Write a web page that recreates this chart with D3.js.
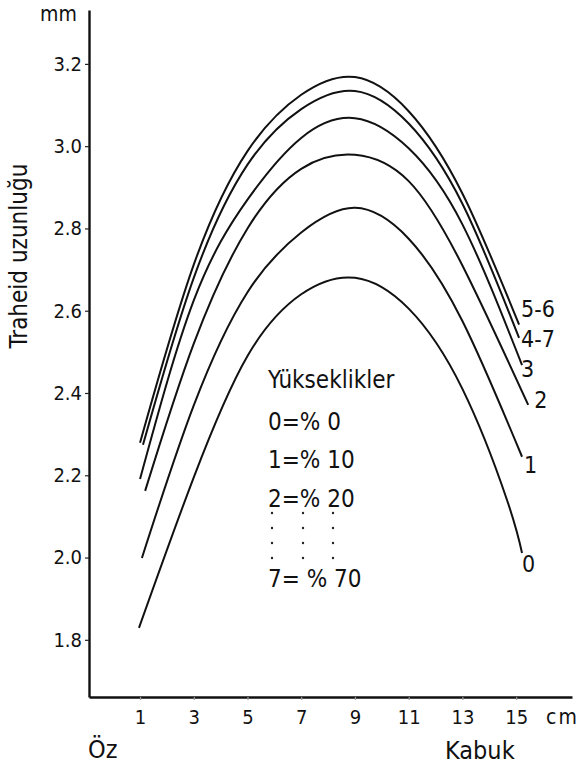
<!DOCTYPE html>
<html>
<head>
<meta charset="utf-8">
<script src="https://cdn.jsdelivr.net/npm/d3@7"></script>
<style>
  body { margin: 0; background: #fff; }
  svg text { font-family: "DejaVu Sans Condensed", "DejaVu Sans", sans-serif; font-stretch: condensed; fill: #111; }
</style>
</head>
<body>
<div id="chart"></div>
<script>
// tracheid length (mm) against distance from pith (cm), one curve per height group
const xTicks = [1, 3, 5, 7, 9, 11, 13, 15];
const yTicks = [1.8, 2.0, 2.2, 2.4, 2.6, 2.8, 3.0, 3.2];

const h0 = [[0.96, 1.829], [3, 2.195], [5, 2.49], [7, 2.64], [9, 2.68], [11, 2.605], [13, 2.41], [14.66, 2.14], [15.22, 2.011]];
const h1 = [[1.07, 1.999], [3, 2.37], [5, 2.645], [7, 2.79], [9, 2.85], [11, 2.775], [13, 2.575], [15.22, 2.245]];
const h2 = [[1.19, 2.162], [3, 2.52], [5, 2.80], [7, 2.945], [9, 2.979], [11, 2.915], [13, 2.71], [15.45, 2.371]];
const h3 = [[1.0, 2.191], [3, 2.625], [5, 2.87], [7, 3.02], [9, 3.068], [11, 2.995], [13, 2.81], [15.22, 2.468]];
const h47 = [[1.11, 2.274], [3, 2.68], [5, 2.955], [7, 3.09], [9, 3.134], [11, 3.055], [13, 2.86], [15.11, 2.534]];
const h56 = [[1.0, 2.279], [3, 2.712], [5, 2.988], [7, 3.125], [9, 3.168], [11, 3.085], [13, 2.885], [15.11, 2.566]];

const seriesNames = ["0", "1", "2", "3", "4-7", "5-6"];
const legendLines = ["Yükseklikler", "0=% 0", "1=% 10", "2=% 20"];
const legendLast = "7= % 70";

const W = 582, H = 765;
const svg = d3.select("#chart").append("svg").attr("width", W).attr("height", H);

let x = d3.scaleLinear().domain([-0.9, 17.08]).range([89, 572]);
let y = d3.scaleLinear().domain([1.661, 3.331]).range([697, 10]);

// axes
let yAxis = svg.append("g").attr("transform", "translate(89,0)")
  .call(d3.axisLeft(y).tickValues(yTicks).tickFormat(d3.format(".1f")).tickSize(4).tickSizeOuter(0).tickPadding(3));
let xAxis = svg.append("g").attr("transform", "translate(0,697)")
  .call(d3.axisBottom(x).tickValues(xTicks).tickFormat(d3.format("d")).tickSize(3).tickSizeOuter(0).tickPadding(10));

[yAxis, xAxis].forEach(a => {
  a.select(".domain").attr("stroke", "#111").attr("stroke-width", 2.4);
  a.selectAll(".tick line").attr("stroke", "#222").attr("stroke-width", 1.2);
  a.selectAll(".tick text").attr("font-size", 20).attr("fill", "#111");
});
xAxis.selectAll(".tick line").attr("stroke", "#999");

// axis captions
svg.append("text").attr("x", 40).attr("y", 21).attr("font-size", 21).text("mm");
svg.append("text").attr("x", 546).attr("y", 724).attr("font-size", 21).attr("letter-spacing", 2).text("cm");
svg.append("text").attr("x", 88).attr("y", 758).attr("font-size", 25).text("Öz");
svg.append("text").attr("x", 445).attr("y", 759).attr("font-size", 25).text("Kabuk");
svg.append("text")
  .attr("transform", "translate(27,256) rotate(-90)")
  .attr("text-anchor", "middle").attr("font-size", 24)
  .text("Traheid uzunluğu");

// curves
let line = d3.line().x(d => x(d[0])).y(d => y(d[1])).curve(d3.curveNatural);
let allSeries = [h0, h1, h2, h3, h47, h56];
svg.append("g").selectAll("path").data(allSeries).enter().append("path")
  .attr("d", line).attr("fill", "none").attr("stroke", "#111").attr("stroke-width", 2);

// end labels
const labelShift = [[0, 19], [2, 16], [6, 3], [-1, 12], [2, 9], [2, -8]];
svg.append("g").selectAll("text").data(allSeries).enter().append("text")
  .attr("x", (d, i) => x(d[d.length - 1][0]) + labelShift[i][0])
  .attr("y", (d, i) => y(d[d.length - 1][1]) + labelShift[i][1])
  .attr("font-size", 23)
  .text((d, i) => seriesNames[i]);

// legend
let legY = [388, 430, 468, 507];
svg.append("g").selectAll("text").data(legendLines).enter().append("text")
  .attr("x", 268).attr("y", (d, i) => legY[i]).attr("font-size", 24).text(d => d);
svg.append("text").attr("x", 268).attr("y", 587).attr("font-size", 24).text(legendLast);
let dotCols = [272, 303, 333], dotRows = [513, 528, 543, 558];
svg.append("g").selectAll("circle").data(d3.cross(dotCols, dotRows)).enter().append("circle")
  .attr("cx", d => d[0]).attr("cy", d => d[1]).attr("r", 1.2).attr("fill", "#222");
</script>
</body>
</html>
